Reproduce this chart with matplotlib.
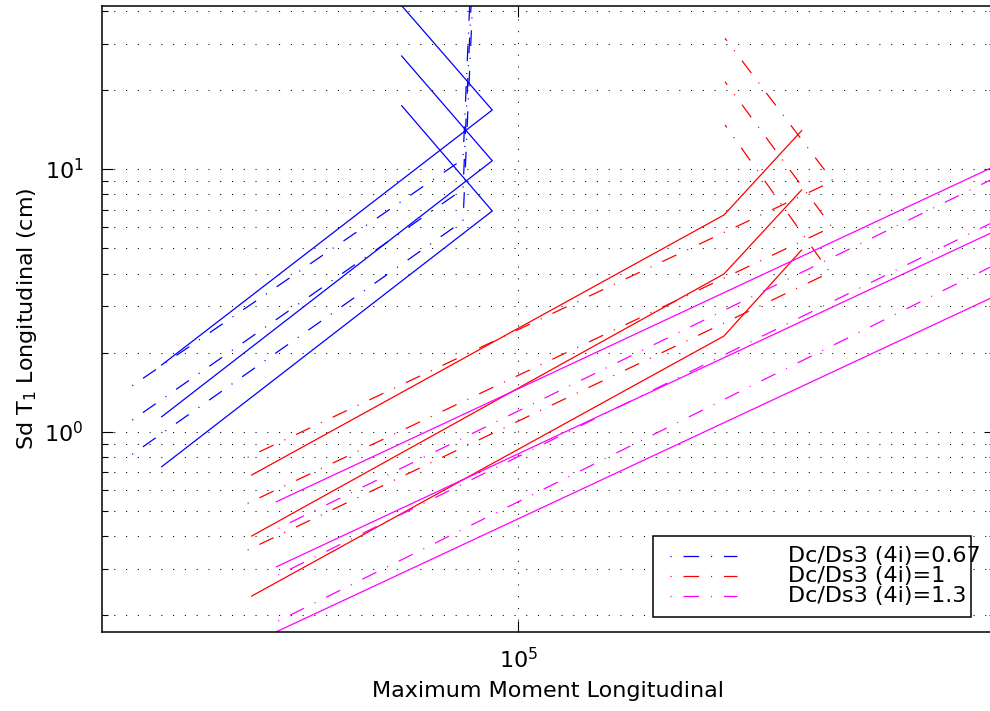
import matplotlib
matplotlib.use("Agg")
import matplotlib.pyplot as plt
from matplotlib.ticker import LogLocator, NullLocator, NullFormatter
from matplotlib.patches import Rectangle
from matplotlib.lines import Line2D

# Dc/Ds3 (4i)=0.67  (blue)
blue_dash_x = [[22540, 80800, 83110], [22540, 80800, 83560], [22540, 80800, 84020]]
blue_dash_y = [[1.497, 10.90, 48.0], [1.108, 8.378, 48.0], [0.8202, 6.340, 48.0]]
blue_solid_x = [25250, 90450, 63760]
blue_solid_y = [[1.795, 16.77, 41.84], [1.140, 10.75, 26.92], [0.7358, 6.921, 17.42]]

# Dc/Ds3 (4i)=1  (red)
red_dash_x = [[35190, 336900, 222100], [35190, 335600, 222100], [35190, 333000, 222100]]
red_dash_y = [[0.7989, 9.000, 31.45], [0.5338, 6.015, 21.49], [0.3545, 4.036, 14.71]]
red_solid_x = [35740, 221200, 298500]
red_solid_y = [[0.6842, 6.682, 13.99], [0.4009, 3.985, 8.320], [0.2369, 2.313, 4.917]]

# Dc/Ds3 (4i)=1.3  (magenta)
mag_dash_x = [39600, 641900]
mag_dash_y = [[0.4287, 9.455], [0.2848, 6.463], [0.1903, 4.414]]
mag_solid_x = [39330, 641900]
mag_solid_y = [[0.5416, 10.47], [0.3063, 5.921], [0.1733, 3.349]]

labels = ["Dc/Ds3 (4i)=0.67", "Dc/Ds3 (4i)=1", "Dc/Ds3 (4i)=1.3"]
colors = ["#0000ff", "#ff0000", "#ff00ff"]

plt.rcParams["font.family"] = ["DejaVu Sans"]
FS = 16

# matlab style '-.' : dot, gap, dash, gap (units of linewidth)
LW = 0.9
DASHDOT = (22, (12.5, 9.5, 0.9, 9.5))

fig = plt.figure(figsize=(9.9, 7.11), dpi=100)
ax = fig.add_axes([0.1027, 0.1115, 0.9023, 0.8805])
ax.set_xscale("log")
ax.set_yscale("log")

groups = [
    (blue_dash_x, blue_dash_y, blue_solid_x, blue_solid_y),
    (red_dash_x, red_dash_y, red_solid_x, red_solid_y),
    (mag_dash_x, mag_dash_y, mag_solid_x, mag_solid_y),
]
for (dx, dy, sx, sy), c in zip(groups, colors):
    for i, ys in enumerate(dy):
        xs = dx[i] if isinstance(dx[0], list) else dx
        ax.plot(xs, ys, color=c, lw=LW, ls=DASHDOT)
    for ys in sy:
        ax.plot(sx, ys, color=c, lw=LW, ls="-")

ax.set_xlim(20030, 629600)
ax.set_ylim(0.1733, 41.84)

ax.xaxis.set_major_locator(LogLocator(base=10))
ax.xaxis.set_minor_locator(NullLocator())
ax.yaxis.set_minor_locator(LogLocator(base=10, subs=range(2, 10)))
ax.yaxis.set_minor_formatter(NullFormatter())

grid_kw = dict(color="black", lw=0.75, ls=(0, (1, 10.3)))
ax.grid(True, which="major", axis="both", **grid_kw)
ax.grid(True, which="minor", axis="y", **grid_kw)
ax.set_axisbelow(True)

ax.tick_params(which="both", direction="in", top=True, right=True, width=0.8)
ax.tick_params(which="major", length=8, labelsize=FS)
ax.tick_params(which="minor", length=4)
ax.tick_params(axis="y", pad=13)
ax.tick_params(axis="x", pad=11)
for s in ax.spines.values():
    s.set_linewidth(1.1)

ax.set_xlabel("Maximum Moment Longitudinal", fontsize=FS, labelpad=6)
ax.set_ylabel("Sd T$_1$ Longitudinal (cm)", fontsize=FS, labelpad=4)

# legend drawn like the matlab one (text spills over the box)
tr = ax.transAxes
ax.add_patch(Rectangle((0.6168, 0.0240), 0.3563, 0.1294, transform=tr,
                       facecolor="white", edgecolor="black", lw=1.1, zorder=10))
for k, (lab, c) in enumerate(zip(labels, colors)):
    yy = 0.1209 - k * 0.032
    ax.add_line(Line2D([0.6362, 0.7112], [yy, yy], transform=tr, color=c,
                       lw=LW, ls=DASHDOT, zorder=11))
    ax.text(0.7683, yy, lab, transform=tr, fontsize=FS, va="center",
            ha="left", zorder=12, clip_on=False)

fig.savefig("out.png", dpi=100)
